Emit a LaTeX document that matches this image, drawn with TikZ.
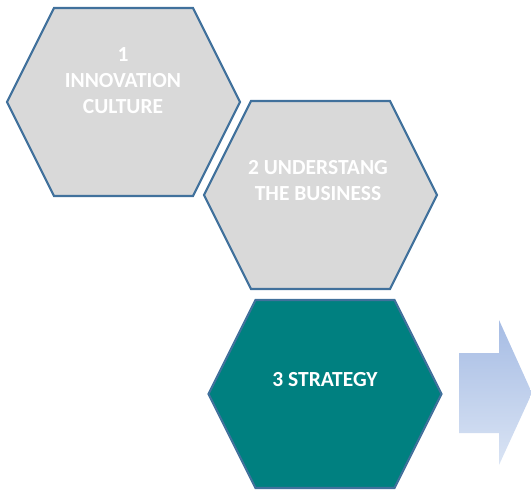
\documentclass[tikz,border=0pt]{standalone}
\usepackage{fontspec}
\setmainfont{Carlito}
\usepackage{xcolor}
\usepackage{tikz}
\usetikzlibrary{positioning}

\definecolor{hexborder}{RGB}{65,113,156}
\definecolor{hexgray}{RGB}{217,217,217}
\definecolor{hexteal}{RGB}{0,128,128}
\definecolor{arrtop}{RGB}{166,188,228}
\definecolor{arrbot}{RGB}{218,228,244}

\begin{document}
\begin{tikzpicture}[
  x=1pt, y=-1pt,
  hexline/.style={draw=hexborder, line width=2.2pt, line join=miter},
  label/.style={text=white, align=center, font=\fontsize{21.5}{26}\selectfont\bfseries},
  pics/hexa/.style={code={
    \path[hexline, fill=#1] (-116.5,0) -- (-69.5,-94) -- (69.5,-94) -- (116.5,0)
      -- (69.5,94) -- (-69.5,94) -- cycle;}}
]
\clip (0,0) rectangle (531,491);

% three steps
\pic at (123.5,102) {hexa=hexgray};
\pic at (320.5,195) {hexa=hexgray};
\pic at (325,394)   {hexa=hexteal};

\node[label] (culture)  at (123,81)  {1\\INNOVATION\\CULTURE};
\node[label] (business) at (318,181) {2 UNDERSTANG\\THE BUSINESS};
\node[label] (strategy) at (325,380) {3 STRATEGY};

% next step arrow
\shade[top color=arrtop, bottom color=arrbot]
  (459,353) -- (499,353) -- (499,320) -- (532,393) -- (499,465) -- (499,433) -- (459,433) -- cycle;
\end{tikzpicture}
\end{document}
